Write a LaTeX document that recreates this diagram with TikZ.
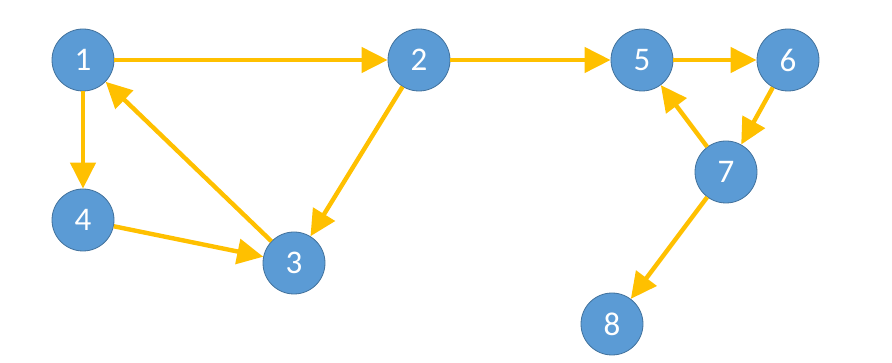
\documentclass[tikz,border=0pt]{standalone}
\usepackage{fontspec}
\setmainfont{Carlito}
\usetikzlibrary{arrows.meta, positioning}
\definecolor{nodeblue}{RGB}{91, 155, 213}
\definecolor{edgeblue}{RGB}{65, 113, 156}
\definecolor{arrowgold}{RGB}{255, 192, 0}

\begin{document}
\begin{tikzpicture}[
    x=1pt, y=-1pt,
    >={Triangle[length=26pt, width=25pt]},
    vertex/.style={circle, draw=edgeblue, line width=0.8pt, fill=nodeblue,
        minimum size=62pt, inner sep=0pt, text=white,
        font=\fontsize{33}{33}\selectfont},
    flow/.style={->, line width=4.4pt, arrowgold}
]
    \useasboundingbox (0,0) rectangle (892,363);

    \node[vertex] (n1) at (83,60) {1};
    \node[vertex] (n2) at (419,60) {2};
    \node[vertex] (n3) at (294,263) {3};
    \node[vertex] (n4) at (83,220) {4};
    \node[vertex] (n5) at (642,60) {5};
    \node[vertex] (n6) at (788,60) {6};
    \node[vertex] (n7) at (726,172) {7};
    \node[vertex] (n8) at (612,324) {8};

    \draw[flow] (n1) -- (n2);
    \draw[flow] (n1) -- (n4);
    \draw[flow] (n4) -- (n3);
    \draw[flow] (n3) -- (n1);
    \draw[flow] (n2) -- (n3);
    \draw[flow] (n2) -- (n5);
    \draw[flow] (n5) -- (n6);
    \draw[flow] (n6) -- (n7);
    \draw[flow] (n7) -- (n5);
    \draw[flow] (n7) -- (n8);
\end{tikzpicture}
\end{document}
